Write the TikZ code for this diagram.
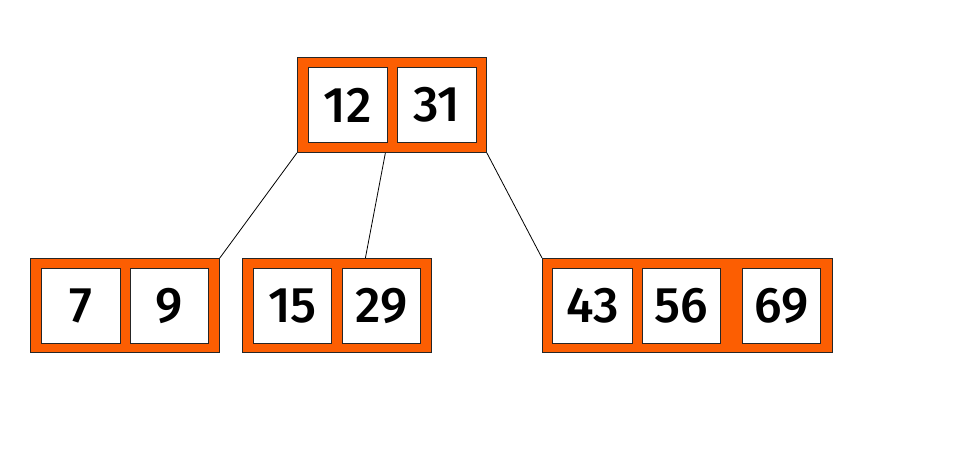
\documentclass[tikz,border=0pt]{standalone}
\usepackage{fontspec}
\setmainfont{Fira Sans}[UprightFont=* Medium]
\usetikzlibrary{positioning}
\definecolor{nodeorange}{RGB}{252,94,2}
\begin{document}
\begin{tikzpicture}[x=1pt,y=-1pt,
  outerbox/.style={draw=black!85,line width=0.8pt,fill=nodeorange,inner sep=0pt,anchor=north west},
  keybox/.style={draw=black!85,line width=0.8pt,fill=white},
  keytext/.style={font=\fontsize{50}{50}\selectfont,text=black},
  link/.style={draw=black,line width=0.8pt}]
\useasboundingbox (0,0) rectangle (966,464);

% one key cell: white square holding a key
\newcommand\keycell[5]{% name, x-left, x-right, top y, key
  \node[keybox,minimum width={#3-#2},minimum height=75pt,inner sep=0pt,anchor=north west] (#1) at (#2,#4) {};
  \node[keytext] at (#1.center) {#5};}

% root
\node[outerbox,minimum width=189pt,minimum height=95pt] (root) at (297,57) {};
\keycell{k12}{308}{387}{67}{12}
\keycell{k31}{397}{476}{67}{31}

% leaves
\node[outerbox,minimum width=189pt,minimum height=94pt] (leafA) at (30,258) {};
\keycell{k7}{41}{120}{268}{7}
\keycell{k9}{130}{208}{268}{9}

\node[outerbox,minimum width=189pt,minimum height=94pt] (leafB) at (242,258) {};
\keycell{k15}{253}{331}{268}{15}
\keycell{k29}{342}{420}{268}{29}

\node[outerbox,minimum width=290pt,minimum height=94pt] (leafC) at (542,258) {};
\keycell{k43}{552}{632}{268}{43}
\keycell{k56}{642}{720}{268}{56}
\keycell{k69}{742}{820}{268}{69}

% child pointers
\coordinate (rootmid) at ([xshift=-6.5pt]root.south);
\coordinate (leafBtop) at ([xshift=28.5pt]leafB.north);
\draw[link] (root.south west) -- (leafA.north east);
\draw[link] (rootmid) -- (leafBtop);
\draw[link] (root.south east) -- (leafC.north west);
\end{tikzpicture}
\end{document}
